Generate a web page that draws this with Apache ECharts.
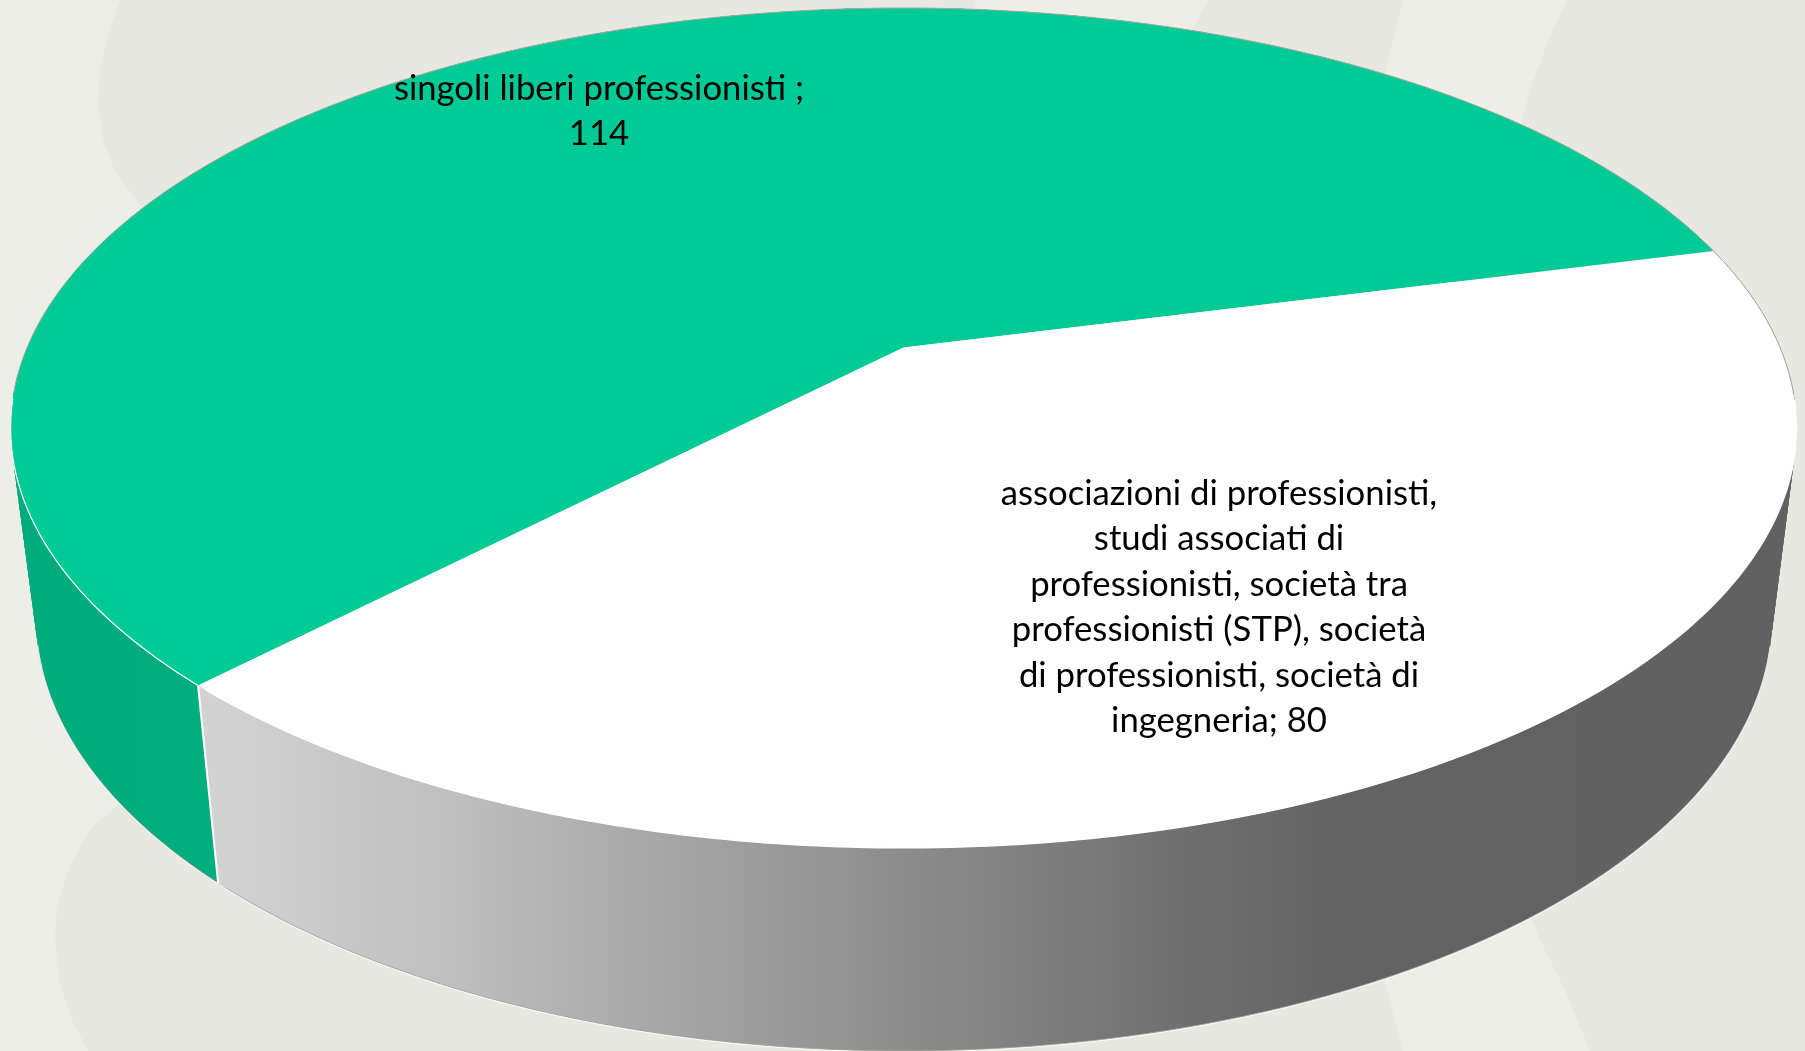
<!DOCTYPE html>
<html>
<head>
<meta charset="utf-8">
<style>html,body{margin:0;padding:0;background:#edeee6}#c{width:1805px;height:1051px}</style>
<script src="https://cdn.jsdelivr.net/npm/echarts@6/dist/echarts.min.js"></script>
</head>
<body>
<div id="c"></div>
<script>
// ---- data ----
var categories = [
  'singoli liberi professionisti ;',
  'associazioni di professionisti,\nstudi associati di\nprofessionisti, società tra\nprofessionisti (STP), società\ndi professionisti, società di\ningegneria;'
];
var values = [114, 80];
var labelSeparators = ['\n', ' '];

// ---- styling ----
var topColors = ['#00cb96', '#fefefe'];
var labelCentres = [[599, 111.5], [1219, 607.5]];
var wallFills = [
  {type:'linear', x:0, y:0, x2:220, y2:0, global:true, colorStops:[{offset:0,color:'#00ab7d'},{offset:1,color:'#00ae7e'}]},
  {type:'linear', x:218, y:0, x2:1780, y2:0, global:true, colorStops:[
    {offset:0,color:'#d2d2d2'},{offset:0.15,color:'#bfbfbf'},{offset:0.27,color:'#a9a9a9'},
    {offset:0.44,color:'#8c8c8c'},{offset:0.62,color:'#6f6f6f'},{offset:0.72,color:'#636363'},{offset:1,color:'#616161'}]}
];

// perspective view of the disc: upper face and lower face
var firstSliceStart = 133.95, STEP = 0.75, K = -0.1914;
var faceTop = {x:903.6, y:347.6, a:404.6, b:876.5};
var faceBottom = {x:904, y:534, a:418, b:852};
function project(face, deg) {
  var t = deg * Math.PI / 180, u = Math.cos(t), v = Math.sin(t), d = 1 + K * v;
  return [face.x + face.b * u / d, face.y + face.a * v / d];
}

var total = values.reduce(function (s, x) { return s + x; }, 0);
function sliceRange(i) {
  var start = firstSliceStart;
  for (var j = 0; j < i; j++) start += values[j] / total * 360;
  return [start, start + values[i] / total * 360];
}
function arcPoints(face, from, to) {
  var pts = [], n = Math.max(2, Math.ceil((to - from) / STEP));
  for (var i = 0; i <= n; i++) pts.push(project(face, from + (to - from) * i / n));
  return pts;
}
function line(points, stroke, width, z2) {
  return {type:'polyline', z2:z2, silent:true, shape:{points:points},
          style:{stroke:stroke, lineWidth:width, fill:null}};
}
function isFront(deg) { var s = Math.sin(deg * Math.PI / 180); return s > 0.12; }

function renderSlice(params, api) {
  var i = params.dataIndex, r = sliceRange(i), kids = [];
  // wall
  var n = Math.ceil((r[1] - r[0]) / STEP), dt = (r[1] - r[0]) / n;
  for (var q = 0; q < n; q++) {
    var a = r[0] + q * dt, b = Math.min(r[1], a + 2 * dt);
    kids.push({type:'polygon', z2:1, silent:true,
      shape:{points:arcPoints(faceTop, a, b).concat(arcPoints(faceBottom, a, b).reverse())},
      style:{fill:wallFills[i]}});
  }
  // upper face
  var arc = arcPoints(faceTop, r[0], r[1]);
  kids.push({type:'polygon', z2:5, shape:{points:[[faceTop.x, faceTop.y]].concat(arc)},
             style:{fill:topColors[i]}});
  // rim lines
  var greys = [], whites = [];
  for (var d = r[0]; d < r[1]; d += STEP) (isFront(d) ? whites : greys).push(project(faceTop, d));
  if (greys.length > 1) kids.push(line(greys, '#a9a9a5', 1, 6));
  if (whites.length > 1) kids.push(line(whites, '#ffffff', 1.2, 6));
  var lowerFront = [];
  for (var e = r[0]; e <= r[1]; e += STEP) if (Math.sin(e * Math.PI / 180) > 0.25) lowerFront.push(project(faceBottom, e));
  if (lowerFront.length > 1) {
    kids.push(line(lowerFront, '#a8a8a4', 1, 3));
    kids.push(line(lowerFront.map(function (p) { return [p[0], p[1] + 1]; }), '#ffffff', 0.8, 3));
  }
  // white edge between the two walls
  if (i === 1) {
    kids.push(line([project(faceTop, r[1]), project(faceBottom, r[1])], '#ffffff', 2, 3));
  }
  // label
  kids.push({type:'text', z2:10, silent:true, x:labelCentres[i][0], y:labelCentres[i][1],
    style:{text:categories[i] + labelSeparators[i] + api.value(0),
           fontFamily:'Lato', fontSize:34.7, lineHeight:45.5, fill:'#000',
           align:'center', verticalAlign:'middle'}});
  return {type:'group', children:kids};
}

var chart = echarts.init(document.getElementById('c'), null, {renderer:'canvas'});
var dark = '#e7e8e0';
function blob(points) {
  return {type:'polygon', silent:true, z:-1, shape:{points:points, smooth:0}, style:{fill:dark}};
}
chart.setOption({
  animation:false,
  backgroundColor:'#edeee6',
  graphic:{elements:[
    blob([[120,0],[108,35],[100,70],[98,105],[103,140],[115,172],[140,205],[900,300],[976,0]]),
    blob([[1209,0],[1180,50],[1100,200],[1383,80],[1403,0]]),
    blob([[1567,0],[1805,0],[1805,1051],[1590,1051],[1565,990],[1540,940],[1525,900],[1500,500],[1517,140],[1530,90],[1547,43]]),
    blob([[117,805],[90,830],[70,865],[57,905],[55,940],[60,985],[72,1020],[88,1051],[1403,1051],[1383,973],[1000,800]])
  ]},
  series:[{
    type:'custom',
    coordinateSystem:'none',
    clip:false,
    renderItem:renderSlice,
    data:values.map(function (v, i) { return {name:categories[i], value:[v]}; })
  }]
});
</script>
</body>
</html>
